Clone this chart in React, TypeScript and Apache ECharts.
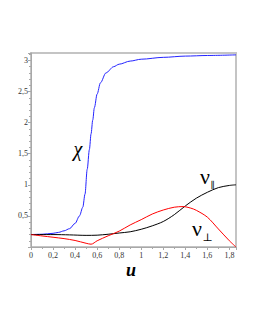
import React, { useEffect, useRef } from "react";
import * as echarts from "echarts";

const chiU = [0, 0.1, 0.2, 0.25, 0.3, 0.35, 0.4, 0.44, 0.47, 0.49, 0.51, 0.53, 0.545, 0.56, 0.575, 0.6, 0.63, 0.68, 0.75, 0.8, 0.9, 1.0, 1.2, 1.4, 1.6, 1.86];
const chiV = [0.2, 0.205, 0.22, 0.235, 0.26, 0.295, 0.38, 0.5, 0.64, 0.85, 1.25, 1.57, 1.82, 2.04, 2.24, 2.46, 2.64, 2.8, 2.9, 2.94, 2.99, 3.02, 3.05, 3.07, 3.08, 3.09];

const parU = [0, 0.2, 0.35, 0.5, 0.6, 0.7, 0.8, 0.9, 1.0, 1.1, 1.2, 1.3, 1.4, 1.5, 1.6, 1.7, 1.8, 1.86];
const parV = [0.2, 0.2, 0.195, 0.187, 0.19, 0.205, 0.225, 0.245, 0.285, 0.34, 0.41, 0.52, 0.66, 0.785, 0.88, 0.955, 0.99, 1.0];

const perpU = [0, 0.1, 0.2, 0.3, 0.4, 0.5, 0.545, 0.6, 0.7, 0.8, 0.9, 1.0, 1.1, 1.2, 1.3, 1.38, 1.45, 1.5, 1.6, 1.7, 1.8, 1.86];
const perpV = [0.2, 0.178, 0.157, 0.135, 0.105, 0.06, 0.045, 0.1, 0.18, 0.255, 0.355, 0.44, 0.53, 0.595, 0.64, 0.65, 0.625, 0.59, 0.48, 0.29, 0.1, 0.0];

const zip = (a: number[], b: number[]) => a.map((x, i) => [x, b[i]]);
const fmt = (v: number) => (v === 0 ? "" : String(Math.round(v * 10) / 10).replace(".", ","));
const fmtX = (v: number) => String(Math.round(v * 10) / 10).replace(".", ",");

export default function App() {
  const ref = useRef<HTMLDivElement>(null);
  useEffect(() => {
    if (!ref.current) return;
    const chart = echarts.init(ref.current, undefined, { renderer: "svg" });
    const serif = "'Liberation Serif', 'DejaVu Serif', serif";
    chart.setOption({
      animation: false,
      backgroundColor: "#ffffff",
      grid: {
        left: 31,
        top: 53,
        right: 19,
        bottom: 83,
        show: true,
        borderColor: "#c4c4c4",
        borderWidth: 2,
        backgroundColor: "transparent",
      },
      xAxis: {
        type: "value",
        min: 0,
        max: 1.86,
        interval: 0.2,
        splitLine: { show: false },
        axisLine: { show: true, lineStyle: { color: "#a8a8a8", width: 1 } },
        axisTick: { show: true, length: 3, lineStyle: { color: "#a8a8a8" } },
        minorTick: { show: true, splitNumber: 2, length: 2, lineStyle: { color: "#a8a8a8" } },
        axisLabel: {
          formatter: fmtX,
          showMaxLabel: false,
          fontFamily: serif,
          fontSize: 8,
          color: "#333",
          margin: 4,
        },
      },
      yAxis: {
        type: "value",
        min: 0,
        max: 3.12,
        interval: 0.5,
        splitLine: { show: false },
        axisLine: { show: true, lineStyle: { color: "#a8a8a8", width: 1 } },
        axisTick: { show: true, length: 3, lineStyle: { color: "#a8a8a8" } },
        minorTick: { show: true, splitNumber: 5, length: 2, lineStyle: { color: "#a8a8a8" } },
        axisLabel: {
          formatter: fmt,
          showMaxLabel: false,
          fontFamily: serif,
          fontSize: 8,
          color: "#333",
          margin: 3,
        },
      },
      series: [
        {
          type: "line",
          data: zip(chiU, chiV),
          showSymbol: false,
          smooth: 0.3,
          smoothMonotone: "x",
          lineStyle: { color: "#2323ff", width: 1 },
        },
        {
          type: "line",
          data: zip(parU, parV),
          showSymbol: false,
          smooth: 0.3,
          lineStyle: { color: "#000000", width: 1 },
        },
        {
          type: "line",
          data: zip(perpU, perpV),
          showSymbol: false,
          smooth: 0.3,
          lineStyle: { color: "#ff0000", width: 1 },
        },
      ],
      graphic: [
        {
          type: "text",
          x: 78,
          y: 149,
          style: {
            text: "χ",
            font: "italic 20px " + serif,
            fill: "#000",
            align: "center",
            verticalAlign: "middle",
          },
        },
        {
          type: "text",
          x: 205,
          y: 176,
          style: {
            text: "ν",
            font: "22px " + serif,
            fill: "#000",
            align: "center",
            verticalAlign: "middle",
          },
        },
        {
          type: "text",
          x: 210.5,
          y: 185,
          style: {
            text: "∥",
            font: "9px " + serif,
            fill: "#000",
            align: "left",
            verticalAlign: "middle",
          },
        },
        {
          type: "text",
          x: 197,
          y: 228,
          style: {
            text: "ν",
            font: "22px " + serif,
            fill: "#000",
            align: "center",
            verticalAlign: "middle",
          },
        },
        {
          type: "text",
          x: 202.5,
          y: 237,
          style: {
            text: "⊥",
            font: "11px " + serif,
            fill: "#000",
            align: "left",
            verticalAlign: "middle",
          },
        },
        {
          type: "text",
          x: 131,
          y: 270,
          style: {
            text: "u",
            font: "italic bold 18px " + serif,
            fill: "#000",
            align: "center",
            verticalAlign: "middle",
          },
        },
      ],
    });
    return () => chart.dispose();
  }, []);
  return <div ref={ref} style={{ width: 255, height: 330, position: "absolute", left: 0, top: 0 }} />;
}
